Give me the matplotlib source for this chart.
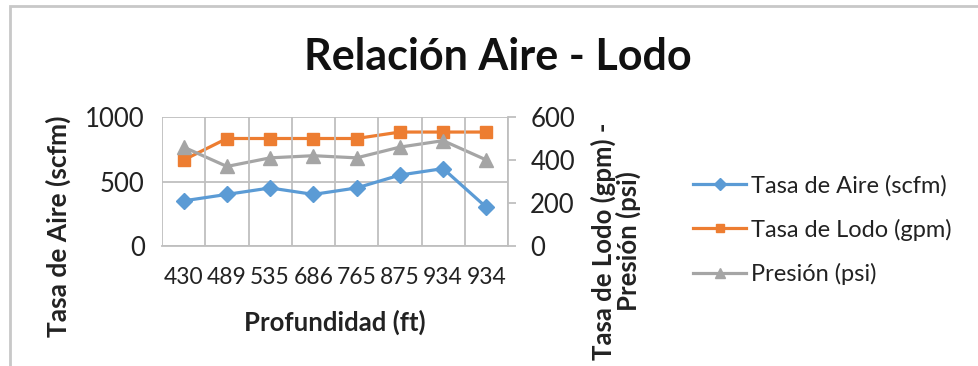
import numpy as np
import matplotlib.pyplot as plt
from matplotlib.patches import Rectangle

# Datos de la relación aire - lodo
profundidad = ["430", "489", "535", "686", "765", "875", "934", "934"]
tasa_aire = [350, 400, 450, 400, 450, 550, 600, 300]      # scfm
tasa_lodo = [400, 500, 500, 500, 500, 530, 530, 530]      # gpm
presion = [460, 370, 410, 420, 410, 460, 490, 400]        # psi

azul = "#5B9BD5"
naranja = "#ED7D31"
gris = "#A5A5A5"
rejilla = "#BFBFBF"
texto = "#222222"

plt.rcParams['font.family'] = ['Lato', 'DejaVu Sans']

W, H = 979, 366
fig = plt.figure(figsize=(W / 100, H / 100), dpi=100)

# marco del gráfico
fig.patches.append(Rectangle((10 / W, -0.1), 1.2, 1 - 6 / H + 0.1, transform=fig.transFigure,
                             fill=False, edgecolor="#C8C8C8", linewidth=2))

ax = fig.add_axes([162 / W, 1 - 246 / H, 346 / W, 129 / H])
x = np.arange(len(profundidad))

# líneas verticales entre categorías
for b in np.arange(-0.5, len(profundidad)):
    ax.axvline(b, color=rejilla, lw=1.3, zorder=0)

l1, = ax.plot(x, tasa_aire, color=azul, lw=2.3, marker="D", ms=8, label="Tasa de Aire (scfm)")
ax.set_ylim(0, 1000)
ax.set_yticks([0, 500, 1000])
ax.set_xlim(-0.5, len(profundidad) - 0.5)
ax.set_xticks(x)
ax.set_xticklabels(profundidad)
ax.grid(True, which="major", axis="y", color=rejilla, lw=1.3)
ax.tick_params(which="both", length=0, labelsize=18.5, colors=texto)
ax.tick_params(axis="y", pad=12.5)
ax.tick_params(axis="x", pad=15, labelsize=16.5)
for s in ax.spines.values():
    s.set_visible(False)
ax.spines["bottom"].set_visible(True)
ax.spines["bottom"].set_color(rejilla)
ax.spines["bottom"].set_linewidth(1.3)
ax.set_axisbelow(True)

ax2 = ax.twinx()
l2, = ax2.plot(x, tasa_lodo, color=naranja, lw=2.3, marker="s", ms=8.5, label="Tasa de Lodo (gpm)")
l3, = ax2.plot(x, presion, color=gris, lw=2.3, marker="^", ms=10, label="Presión (psi)")
ax2.set_ylim(0, 600)
ax2.set_yticks([0, 200, 400, 600])
for s in ax2.spines.values():
    s.set_visible(False)
ax2.spines["right"].set_visible(True)
ax2.spines["right"].set_color(rejilla)
ax2.spines["right"].set_linewidth(1.3)
ax2.tick_params(axis="y", length=6, width=1.3, color=rejilla, labelsize=18.5, labelcolor=texto, pad=10)
# la serie de aire va delante de las demás
ax.set_zorder(1)
ax2.set_zorder(0)
ax.patch.set_visible(False)

fig.text(498 / W, 1 - 57 / H, "Relación Aire - Lodo", ha="center", va="center",
         fontsize=31, fontweight="bold", color="#111111")
fig.text(335 / W, 1 - 322 / H, "Profundidad (ft)", ha="center", va="center",
         fontsize=18.5, fontweight="bold", color=texto)
fig.text(58 / W, 1 - 226 / H, "Tasa de Aire (scfm)", ha="center", va="center",
         rotation=90, fontsize=19, fontweight="bold", color=texto)
fig.text(616 / W, 1 - 241 / H, "Tasa de Lodo (gpm) -\nPresión (psi)", ha="center", va="center",
         rotation=90, fontsize=18.5, fontweight="bold", color=texto, linespacing=1.0,
         multialignment="center")

fig.legend(handles=[l1, l2, l3], loc="center left", bbox_to_anchor=(672 / W, 1 - 230 / H),
           frameon=False, fontsize=17, handlelength=2.25, handletextpad=0.2,
           labelspacing=0.95, labelcolor=texto, markerscale=0.75)

fig.savefig("out.png", dpi=100)
